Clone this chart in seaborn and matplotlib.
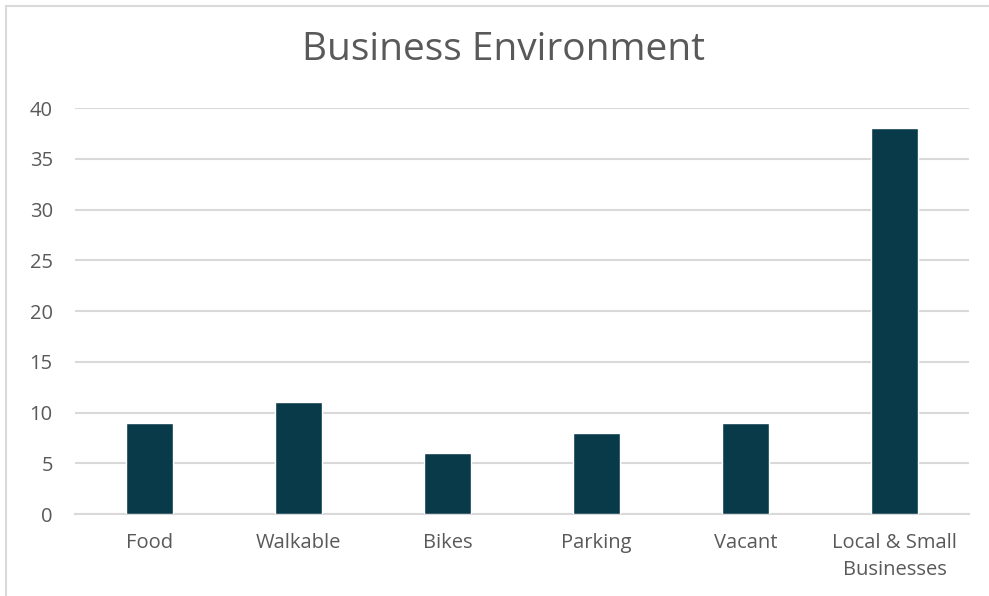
import matplotlib
matplotlib.use("Agg")
import matplotlib.pyplot as plt
import seaborn as sns
import pandas as pd

# Chart data
categories = ["Food", "Walkable", "Bikes", "Parking", "Vacant", "Local & Small\nBusinesses"]
counts = [9, 11, 6, 8, 9, 38]
y_ticks = [0, 5, 10, 15, 20, 25, 30, 35, 40]

bar_color = "#083A4A"
text_color = "#595959"
grid_color = "#D9D9D9"

sns.set_theme(style="white")
plt.rcParams['font.family'] = ['Open Sans', 'DejaVu Sans']

df = pd.DataFrame({"category": categories, "count": counts})

fig = plt.figure(figsize=(9.89, 5.96), dpi=100)
ax = fig.add_axes([75 / 989, 1 - 514 / 596, (969 - 75) / 989, (514 - 108) / 596])

sns.barplot(data=df, x="category", y="count", color=bar_color, width=0.32,
            saturation=1, ax=ax, zorder=3)

ax.set_ylim(0, 40)
ax.set_yticks(y_ticks)
ax.set_xlim(-0.5, len(categories) - 0.5)
ax.yaxis.grid(True, color=grid_color, linewidth=1.5, zorder=0)
ax.set_axisbelow(True)
for side in ["top", "right", "left"]:
    ax.spines[side].set_visible(False)
ax.spines["bottom"].set_color(grid_color)
ax.spines["bottom"].set_linewidth(1.5)

ax.set_xlabel("")
ax.set_ylabel("")
ax.tick_params(axis="both", length=0, labelsize=14.5, labelcolor=text_color)
ax.tick_params(axis="y", pad=16)
ax.tick_params(axis="x", pad=14)
for lbl in ax.get_xticklabels():
    lbl.set_linespacing(1.45)

fig.text(503 / 989, 1 - 50 / 596, "Business Environment", ha="center", va="center",
         fontsize=28, color=text_color)

# Chart frame (only the left and top edges are visible in the reference)
fig.add_artist(plt.Line2D([6 / 989, 6 / 989], [0, 1 - 6 / 596], transform=fig.transFigure,
                          color=grid_color, linewidth=1.5))
fig.add_artist(plt.Line2D([6 / 989, 1], [1 - 6 / 596, 1 - 6 / 596], transform=fig.transFigure,
                          color=grid_color, linewidth=1.5))

fig.savefig("out.png", dpi=100, facecolor="white")
